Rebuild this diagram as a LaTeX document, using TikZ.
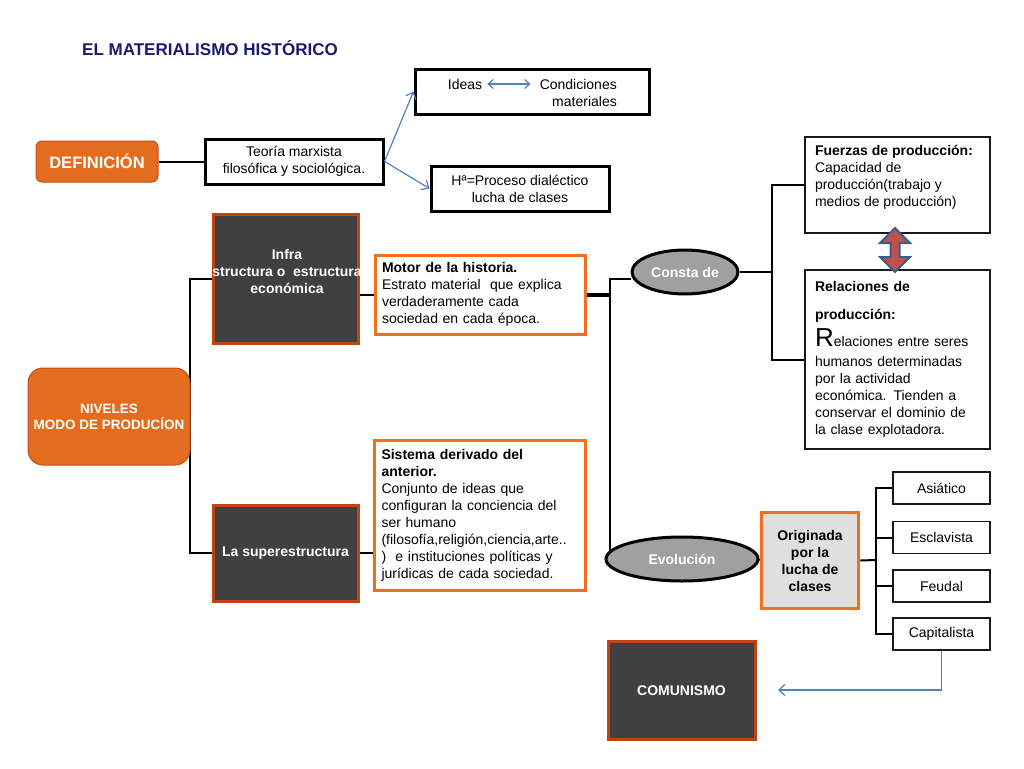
\documentclass[tikz,border=0pt]{standalone}
\usepackage{fontspec}
\setmainfont{Liberation Sans}
\usetikzlibrary{shapes.geometric,arrows.meta}
\pgfdeclarelayer{bg}
\pgfsetlayers{bg,main}
\definecolor{orfill}{HTML}{E46C1E}
\definecolor{oredge}{HTML}{C0501A}
\definecolor{dkfill}{HTML}{404040}
\definecolor{dkedge}{HTML}{C1440E}
\definecolor{orline}{HTML}{F0701E}
\definecolor{ogfill}{HTML}{E0E0E0}
\definecolor{elfill}{HTML}{A0A0A0}
\definecolor{navy}{RGB}{26,26,110}
\definecolor{arrblue}{HTML}{4F81BD}
\definecolor{dblred}{HTML}{C0504D}
\definecolor{dblblue}{HTML}{385D8A}
\begin{document}
\begin{tikzpicture}[x=1pt,y=-1pt,
  every node/.style={font=\fontsize{14}{17}\selectfont, inner sep=0pt},
  blackbox/.style={draw=black, line width=3pt, fill=white, align=center},
  thinbox/.style={draw=black!90, line width=1.5pt, fill=white, align=center},
  darkbox/.style={draw=dkedge, line width=3pt, fill=dkfill, text=white, font=\fontsize{14}{17}\selectfont\bfseries, align=center},
  orbox/.style={draw=orline, line width=3pt, fill=white, align=left, text width=196pt},
  roundor/.style={draw=oredge, line width=1pt, fill=orfill, text=white, align=center},
  oval/.style={ellipse, draw=black, line width=3pt, fill=elfill, text=white, font=\fontsize{14}{17}\selectfont\bfseries},
  conn/.style={draw=black, line width=2pt},
  bluearrow/.style={draw=arrblue, line width=1.2pt, -{Straight Barb[length=6pt,width=11pt]}}
]
\useasboundingbox (0,0) rectangle (1024,768);

% title
\node[text=navy, font=\fontsize{17}{20}\selectfont\bfseries] (title) at (210,48) {EL MATERIALISMO HISTÓRICO};

% definition branch
\node[roundor, rounded corners=6pt, minimum width=122pt, minimum height=41pt, font=\fontsize{16.5}{20}\selectfont\bfseries] (defin) at (97,161.5) {DEFINICIÓN};
\node[blackbox, minimum width=178pt, minimum height=45pt] (teoria) at (294,161.5) {Teoría marxista\\filosófica y sociológica.};
\node[blackbox, minimum width=234pt, minimum height=45pt] (ideasbox) at (532,91.5) {};
\node (ideastxt) at (465,84) {Ideas};
\node[anchor=east, align=right] (condtxt) at (617,93) {Condiciones\\materiales};
\node[blackbox, minimum width=178pt, minimum height=45pt] (hbox) at (520,188.5) {Hª=Proceso dialéctico\\lucha de clases};

% niveles
\node[roundor, rounded corners=15pt, minimum width=162pt, minimum height=97pt, font=\fontsize{13.5}{16}\selectfont\bfseries] (niveles) at (109,416.5) {NIVELES\\MODO DE PRODUCÍON};
\node[darkbox, minimum width=145pt, minimum height=129pt] (infra) at (285.5,278.5) {};
\node[text=white, font=\fontsize{14}{17}\selectfont\bfseries, align=center] (infratxt) at (287,271) {Infra\\structura o\ \ estructura\\económica};
\node[darkbox, minimum width=145pt, minimum height=96pt] (super) at (285.5,553) {La superestructura};

\node[orbox, minimum width=210pt, minimum height=79pt] (motor) at (480,294.5) {\textbf{Motor de la historia.}\\Estrato material\ \ que explica\\verdaderamente cada\\sociedad en cada época.};
\node[orbox, minimum width=211pt, minimum height=150pt] (sistema) at (479.5,515) {\textbf{Sistema derivado del}\\\textbf{anterior.}\\Conjunto de ideas que\\configuran la conciencia del\\ser humano\\(filosofía,religión,ciencia,arte..\\)\ \ e instituciones políticas y\\jurídicas de cada sociedad.};

% ellipses
\node[oval, minimum width=106pt, minimum height=44pt] (consta) at (685,272) {Consta de};
\node[oval, minimum width=152pt, minimum height=44pt] (evol) at (682,559) {Evolución};

% right boxes
\node[thinbox, minimum width=185pt, minimum height=96pt] (fuerzas) at (897.5,185) {\parbox[c][80pt][t]{165pt}{\raggedright\textbf{Fuerzas de producción:}\\Capacidad de\\producción(trabajo y\\medios de producción)}};
\node[thinbox, minimum width=185pt, minimum height=179pt, align=left, text width=165pt] (relac) at (897.5,359.5) {\textbf{Relaciones de}\\[11pt]\textbf{producción:}\\[5pt]{\fontsize{26}{26}\selectfont R}elaciones entre seres\\[3pt]humanos determinadas\\por la actividad\\económica. Tienden a\\conservar el dominio de\\la clase explotadora.};

\node[draw=orline, line width=3.5pt, fill=ogfill, minimum width=97pt, minimum height=96pt, align=center, font=\fontsize{14}{17}\selectfont\bfseries] (orig) at (810,560.5) {Originada\\por la\\lucha de\\clases};
\node[thinbox, minimum width=97pt, minimum height=32pt] (asia) at (941.5,488) {Asiático};
\node[thinbox, minimum width=97pt, minimum height=32pt] (escl) at (941.5,537.5) {Esclavista};
\node[thinbox, minimum width=97pt, minimum height=32pt] (feud) at (941.5,586) {Feudal};
\node[thinbox, minimum width=97pt, minimum height=32pt] (capit) at (941.5,634) {Capitalista};
\node[darkbox, minimum width=147pt, minimum height=98pt] (comun) at (681.5,690.5) {COMUNISMO};

% double block arrow between fuerzas and relaciones
\draw[fill=dblred, draw=dblblue, line width=2pt, line join=miter]
  (895,228) -- (910,243) -- (899.5,243) -- (899.5,257) -- (910,257) -- (895,272)
  -- (880,257) -- (890.5,257) -- (890.5,243) -- (880,243) -- cycle;

% coordinates for junctions
\coordinate (jl) at (190,0);
\coordinate (jm) at (610,279);
\coordinate (jc) at (772,272);
\coordinate (jo) at (876,560);
\coordinate (arrend) at (778,690);

\begin{pgfonlayer}{bg}
\draw[conn] (defin.east) -- (teoria.west);
\draw[conn] (infra.west) -- (infra.west -| jl) |- (super.west);
\draw[conn] (motor.west) -- (motor.west -| infra.east);
\draw[conn] (super.east) -- (super.east -| sistema.west);
\draw[draw=black, line width=4pt] (motor.east) -- (motor.east -| jm);
\draw[conn] (consta.west |- jm) -- (jm) -- (jm |- evol.west);
\draw[conn] (consta.east) -- (jc);
\draw[conn] (fuerzas.west) -| (jc) |- (relac.west);
\draw[conn] (evol.east) -- (orig.west);
\draw[conn] (orig.east) -- (jo);
\draw[conn] (asia.west) -| (jo) |- (capit.west);
\draw[conn] (escl.west) -- (escl.west -| jo);
\draw[conn] (feud.west) -- (feud.west -| jo);
\end{pgfonlayer}

% blue arrows
\draw[bluearrow] (teoria.east) -- (ideasbox.west);
\draw[bluearrow] (teoria.east) -- (hbox.west);
\draw[bluearrow, {Straight Barb[length=5pt,width=9pt]}-{Straight Barb[length=5pt,width=9pt]}, shorten <=5pt, shorten >=9pt] (ideastxt.east) -- (ideastxt.east -| condtxt.west);
\draw[bluearrow] (capit.south) |- (arrend);
\end{tikzpicture}
\end{document}
